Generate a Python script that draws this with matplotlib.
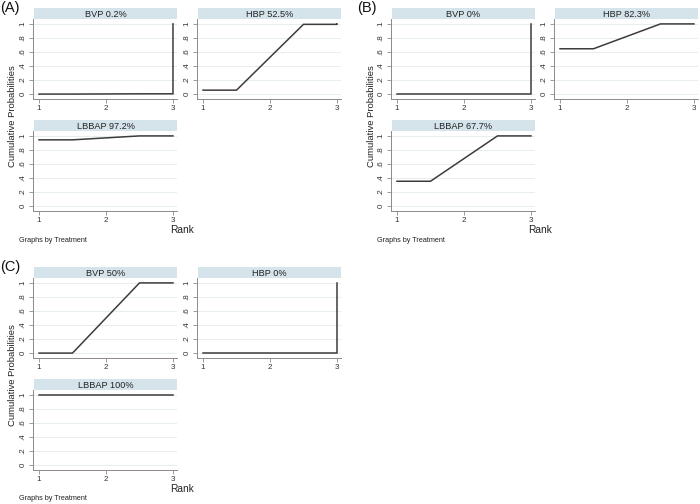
import matplotlib
matplotlib.use("Agg")
import matplotlib.pyplot as plt

plt.rcParams['font.family'] = ['Liberation Sans', 'DejaVu Sans']

# ---- data ----
treatments = ["BVP", "HBP", "LBBAP"]
ranks = [1, 2, 3]
panel_labels = ["(A)", "(B)", "(C)"]

# cumulative probabilities P(rank <= r) for r = 1, 2, 3
cum_A = {"BVP": [0.0, 0.004, 1.0], "HBP": [0.056, 0.994, 1.0], "LBBAP": [0.944, 1.0, 1.0]}
cum_B = {"BVP": [0.0, 0.0, 1.0], "HBP": [0.646, 1.0, 1.0], "LBBAP": [0.354, 1.0, 1.0]}
cum_C = {"BVP": [0.0, 1.0, 1.0], "HBP": [0.0, 0.0, 1.0], "LBBAP": [1.0, 1.0, 1.0]}
sucra_A = ["0.2%", "52.5%", "97.2%"]
sucra_B = ["0%", "82.3%", "67.7%"]
sucra_C = ["50%", "0%", "100%"]

y_ticks = [0, 0.2, 0.4, 0.6, 0.8, 1.0]
y_ticklabels = ["0", ".2", ".4", ".6", ".8", "1"]
x_ticks = [1, 2, 3]
x_ticklabels = ["1", "2", "3"]

W, H = 700, 504
fig = plt.figure(figsize=(W / 100, H / 100), dpi=100)

def px_axes(x0, y0, x1, y1, **kw):
    return fig.add_axes([x0 / W, 1 - y1 / H, (x1 - x0) / W, (y1 - y0) / H], **kw)

STRIP = "#d5e3ea"
GRID = "#e6eef1"
AXC = "#8a8a8a"
LINEC = "#3c3c3c"
TXT = "#333333"

def draw_panel(x0, y0, name, pct, cum):
    # x0: left of axes, y0: top of strip (pixels)
    w = 144
    sx = px_axes(x0 + 1, y0, x0 + w, y0 + 11)
    sx.set_facecolor(STRIP)
    sx.set_xticks([]); sx.set_yticks([])
    for s in sx.spines.values():
        s.set_visible(False)
    sx.text(0.5, 0.45, f"{name} {pct}", ha="center", va="center", fontsize=6.6, color="#222222",
            transform=sx.transAxes)
    ax = px_axes(x0, y0 + 11, x0 + w, y0 + 91)
    ax.set_facecolor("white")
    # path: horizontal around each rank, linear between
    c1, c2, c3 = cum
    r1, r2, r3 = ranks
    xs = [r1, (r1 + r2) / 2, (r2 + r3) / 2, r3, r3]
    ys = [c1, c1, c2, c2, c3]
    ax.plot(xs, ys, color=LINEC, lw=1.1, solid_joinstyle="miter", clip_on=False, zorder=3)
    ax.set_xlim(0.91, 3.06)
    ax.set_ylim(-0.07, 1.07)
    ax.set_yticks(y_ticks)
    ax.set_yticklabels(y_ticklabels, rotation=90, va="center")
    ax.set_xticks(x_ticks)
    ax.set_xticklabels(x_ticklabels)
    ax.grid(axis="y", color=GRID, lw=0.7)
    ax.set_axisbelow(True)
    for s in ["top", "right"]:
        ax.spines[s].set_visible(False)
    for s in ["left", "bottom"]:
        ax.spines[s].set_color(AXC)
        ax.spines[s].set_linewidth(0.7)
    ax.tick_params(axis="both", colors=AXC, labelcolor=TXT, labelsize=5.8, length=3, width=0.6, pad=1.5)
    return ax

def draw_group(ox, oy, label, cum, sucra, xl, xr):
    fig.text((ox + 0) / W, 1 - (oy + 8) / H, label, fontsize=10.5, ha="left", va="center", color="#111111")
    draw_panel(ox + xl, oy + 8, treatments[0], sucra[0], cum[treatments[0]])
    draw_panel(ox + xr, oy + 8, treatments[1], sucra[1], cum[treatments[1]])
    draw_panel(ox + xl, oy + 120, treatments[2], sucra[2], cum[treatments[2]])
    fig.text((ox + xl - 20) / W, 1 - (oy + 116) / H, "Cumulative Probabilities", rotation=90,
             fontsize=6.8, ha="center", va="center", color="#222222")
    fig.text((ox + xl + 149) / W, 1 - (oy + 230) / H, "Rank", fontsize=7.3, ha="center",
             va="center", color="#222222")
    fig.text((ox + xl - 14) / W, 1 - (oy + 240) / H, "Graphs by Treatment", fontsize=5.2,
             ha="left", va="center", color="#222222")

draw_group(0, 0, panel_labels[0], cum_A, sucra_A, 33, 197)
draw_group(357, 0, panel_labels[1], cum_B, sucra_B, 34, 197)
draw_group(0, 259, panel_labels[2], cum_C, sucra_C, 33, 197)

fig.savefig("out.png", dpi=100)
